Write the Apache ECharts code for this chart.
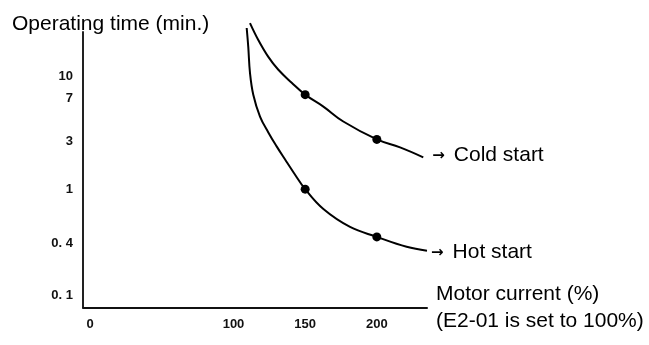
<!DOCTYPE html>
<html>
<head>
<meta charset="utf-8">
<script src="https://cdn.jsdelivr.net/npm/echarts@6/dist/echarts.min.js"></script>
<style>html,body{margin:0;padding:0;background:#fff;}#c{width:649px;height:345px;}</style>
</head>
<body>
<div id="c"></div>
<script>
// Motor current (%) tick labels
const currentTicks = [0, 100, 150, 200];
// Operating time axis is a schematic (non-uniform) scale: labels and their position levels
const timeTickLabels = ['0. 1', '0. 4', '1', '3', '7', '10'];
const timeTickLevels = [12, 64, 119, 167, 210, 232];

// Cold start curve: motor current (%) and position level on the time scale
const coldCurrent = [111.5, 117.3, 124.3, 131.3, 140.6, 150, 162.7, 176.6, 200, 216.2, 232.4];
const coldLevel   = [286, 269, 252, 239, 226, 214, 202, 187, 169, 161, 151];
// Hot start curve
const hotCurrent = [109.2, 110.3, 111.5, 113.8, 118.5, 124.3, 130.1, 135.9, 141.8, 150, 162.7, 181.3, 200, 220.8, 235];
const hotLevel   = [281, 262, 236, 214, 192, 176, 162, 149, 136, 119, 99, 81, 71, 61, 57];
// Marked points
const dotCurrent = [150, 200];
const coldDotLevel = [214, 169];
const hotDotLevel = [119, 71];

const zip = (a, b) => a.map((v, i) => [v, b[i]]);
const FONT = 'Liberation Sans, Arial, sans-serif';

const chart = echarts.init(document.getElementById('c'), null, {renderer: 'canvas'});
const lineStyle = {color: '#000', width: 2};
const endRich = {
  a: {fontSize: 15, fontWeight: 'bold', color: '#000', fontFamily: 'DejaVu Sans', padding: [2, 9, 0, 0]},
  b: {fontSize: 21, color: '#000', fontFamily: FONT}
};
chart.setOption({
  animation: false,
  title: {
    text: 'Operating time (min.)', left: 7, top: 9,
    textStyle: {fontFamily: FONT, fontSize: 21, fontWeight: 'normal', color: '#000'}
  },
  grid: {left: 83, top: 32, right: 222, bottom: 36, containLabel: false},
  xAxis: {
    type: 'value', min: -5, max: 235,
    name: 'Motor current (%)\n(E2-01 is set to 100%)',
    nameLocation: 'end', nameGap: 9,
    nameTextStyle: {fontFamily: FONT, fontSize: 21, color: '#000', align: 'left',
      verticalAlign: 'middle', lineHeight: 27, padding: [21, 0, 0, 0]},
    axisLine: {show: true, onZero: false, lineStyle: {color: '#111', width: 2}},
    axisTick: {show: false},
    splitLine: {show: false},
    axisLabel: {customValues: currentTicks, margin: 10, fontFamily: FONT, fontSize: 13,
      fontWeight: 'bold', color: '#111'}
  },
  yAxis: {
    type: 'value', min: 0, max: 277,
    axisLine: {show: true, onZero: false, lineStyle: {color: '#222', width: 2}},
    axisTick: {show: false},
    splitLine: {show: false},
    axisLabel: {customValues: timeTickLevels, margin: 10, fontFamily: FONT, fontSize: 13,
      fontWeight: 'bold', color: '#111',
      formatter: v => { const i = timeTickLevels.indexOf(v); return i >= 0 ? timeTickLabels[i] : ''; }}
  },
  series: [
    {
      name: 'Cold start', type: 'line', smooth: 0.4, symbol: 'none', clip: false,
      data: zip(coldCurrent, coldLevel), lineStyle,
      endLabel: {show: true, distance: 9, offset: [0, -2], formatter: '{a|→}{b|Cold start}', rich: endRich}
    },
    {
      name: 'Hot start', type: 'line', smooth: 0.4, symbol: 'none', clip: false,
      data: zip(hotCurrent, hotLevel), lineStyle,
      endLabel: {show: true, distance: 4, offset: [0, 1], formatter: '{a|→}{b|Hot start}', rich: endRich}
    },
    {
      type: 'scatter', symbolSize: 9, itemStyle: {color: '#000', opacity: 1},
      data: zip(dotCurrent, coldDotLevel).concat(zip(dotCurrent, hotDotLevel))
    }
  ]
});
</script>
</body>
</html>
